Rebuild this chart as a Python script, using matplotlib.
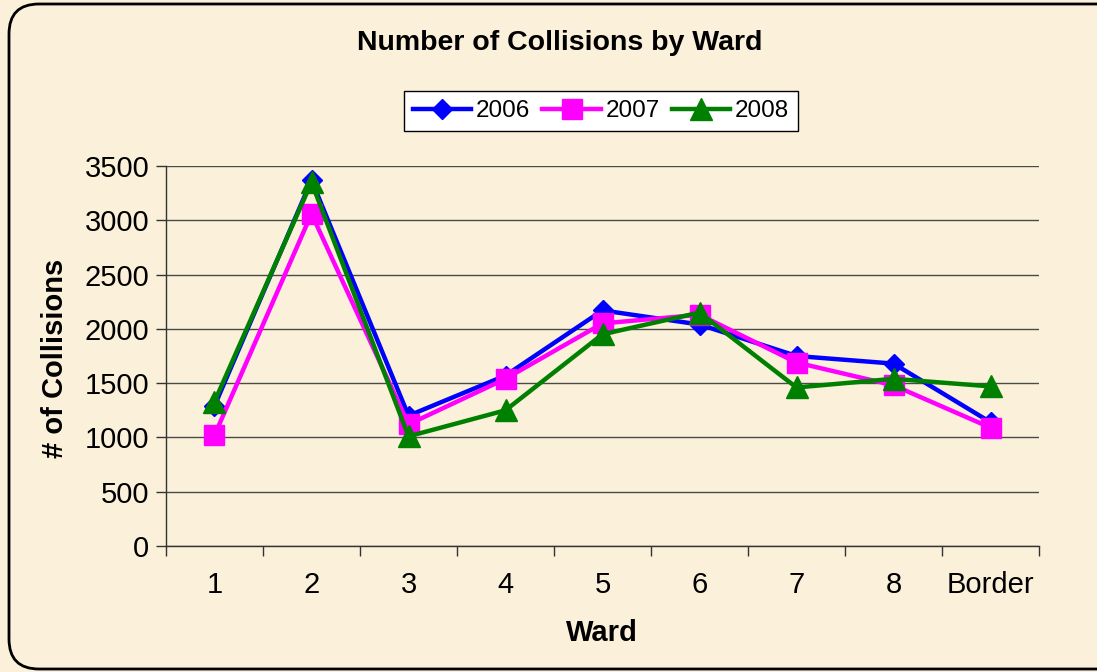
import matplotlib
matplotlib.use("Agg")
import matplotlib.pyplot as plt
from matplotlib.patches import FancyBboxPatch
from matplotlib.ticker import FixedLocator, MultipleLocator

plt.rcParams['font.family'] = ['Liberation Sans', 'DejaVu Sans']

wards = ["1", "2", "3", "4", "5", "6", "7", "8", "Border"]
y2006 = [1290, 3370, 1200, 1570, 2170, 2040, 1750, 1680, 1140]
y2007 = [1020, 3060, 1120, 1540, 2050, 2130, 1690, 1480, 1090]
y2008 = [1330, 3350, 1010, 1250, 1950, 2150, 1460, 1540, 1470]
series = [("2006", y2006, "#0000FF", "D", 10.5),
          ("2007", y2007, "#FF00FF", "s", 14),
          ("2008", y2008, "#008000", "^", 15.5)]

W, H = 1097, 672
fig = plt.figure(figsize=(W / 100, H / 100), dpi=100)
bg = "#FBF0D9"
fig.patch.set_facecolor(bg)

# rounded border drawn in a full-figure pixel-coordinate axes
bax = fig.add_axes([0, 0, 1, 1], zorder=-1)
bax.set_xlim(0, W)
bax.set_ylim(H, 0)
bax.axis("off")
box = FancyBboxPatch((9, 4), 1127 - 9, 669 - 4,
                     boxstyle="round,pad=0,rounding_size=30",
                     facecolor="none", edgecolor="black", linewidth=2.0,
                     clip_on=False)
bax.add_patch(box)

ax = fig.add_axes([166 / W, 1 - 546 / H, (1039 - 166) / W, (546 - 166) / H])
ax.set_facecolor("none")

x = list(range(len(wards)))
for name, vals, col, mk, ms in series:
    ax.plot(x, vals, color=col, lw=3.2, marker=mk, markersize=ms,
            markerfacecolor=col, markeredgecolor=col, label=name, zorder=3)

ax.set_xlim(-0.5, len(wards) - 0.5)
ax.set_ylim(0, 3500)
ax.yaxis.set_major_locator(MultipleLocator(500))
ax.grid(axis="y", color="#4a4a4a", lw=1.0, zorder=1)
ax.set_axisbelow(True)

ax.set_xticks(x)
ax.set_xticklabels(wards, fontsize=21)
ax.xaxis.set_minor_locator(FixedLocator([i - 0.5 for i in range(len(wards) + 1)]))
ax.tick_params(axis="x", which="major", length=0, pad=18)
ax.tick_params(axis="x", which="minor", length=7, width=1, color="#333333", direction="out")
ax.tick_params(axis="y", which="major", length=7, width=1, color="#333333",
               labelsize=21, pad=5)

for s in ["top", "right"]:
    ax.spines[s].set_visible(False)
for s in ["left", "bottom"]:
    ax.spines[s].set_color("#333333")
    ax.spines[s].set_linewidth(1.0)

ax.set_xlabel("Ward", fontsize=21, fontweight="bold", va="center")
ax.xaxis.set_label_coords((602 - 166) / 873, (546 - 633) / 380)
ax.set_ylabel("# of Collisions", fontsize=21, fontweight="bold", va="center")
ax.yaxis.set_label_coords((55 - 166) / 873, (546 - 358) / 380)

fig.text(560 / W, 1 - 43 / H, "Number of Collisions by Ward", ha="center",
         va="center", fontsize=20.5, fontweight="bold")

leg = fig.legend(loc="center", bbox_to_anchor=(601 / W, 1 - 111 / H), ncol=3,
                 fontsize=17.5, frameon=True, fancybox=False, edgecolor="black",
                 facecolor="white", framealpha=1, handlelength=2.4,
                 columnspacing=0.5, handletextpad=0.2, borderpad=0.35)
leg.get_frame().set_linewidth(1.0)

fig.savefig("out.png", dpi=100, facecolor=bg)
